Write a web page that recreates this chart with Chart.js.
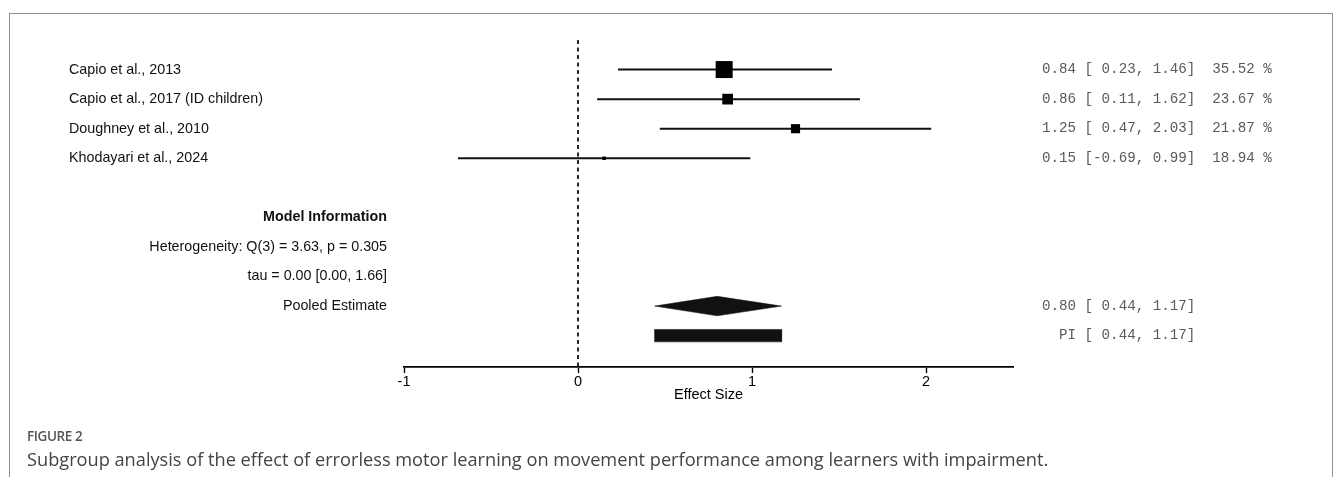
<!DOCTYPE html>
<html>
<head>
<meta charset="utf-8">
<script src="https://cdn.jsdelivr.net/npm/chart.js@4.4.1/dist/chart.umd.min.js"></script>
<style>
  html, body { margin: 0; padding: 0; background: #fff; }
  #wrap { position: relative; width: 1333px; height: 477px; overflow: hidden; }
  #frame { position: absolute; left: 9px; top: 13px; width: 1324px; height: 480px;
           border: 1.5px solid #909095; border-bottom: none; box-sizing: border-box; }
  #plot { position: absolute; left: 0; top: 0; }
  .fig { position: absolute; left: 27px; font-family: "Open Sans", sans-serif; white-space: nowrap; }
  #figno { top: 427px; font-size: 13.5px; font-weight: 600; color: #555; letter-spacing: -0.4px; }
  #caption { top: 447px; font-size: 18.2px; color: #444; }
</style>
</head>
<body>
<div id="wrap">
  <div id="frame"></div>
  <canvas id="plot" width="1333" height="477"></canvas>
  <div class="fig" id="figno">FIGURE 2</div>
  <div class="fig" id="caption">Subgroup analysis of the effect of errorless motor learning on movement performance among learners with impairment.</div>
</div>
<script>
// Study-level effect sizes with 95% confidence intervals and weights (%)
const studies   = ['Capio et al., 2013', 'Capio et al., 2017 (ID children)', 'Doughney et al., 2010', 'Khodayari et al., 2024'];
const estimates = [0.84, 0.86, 1.25, 0.15];
const lower     = [0.23, 0.11, 0.47, -0.69];
const upper     = [1.46, 1.62, 2.03, 0.99];
const weights   = [35.52, 23.67, 21.87, 18.94];

// Random-effects pooled estimate and prediction interval
const pooledEstimate = 0.80;
const pooledCI       = [0.44, 1.17];
const predInterval   = [0.44, 1.17];

// Model summary lines
const modelTitle = 'Model Information';
const modelLines = ['Heterogeneity: Q(3) = 3.63, p = 0.305', 'tau = 0.00 [0.00, 1.66]'];
const pooledLabel = 'Pooled Estimate';

// Axis
const xTicks = [-1, 0, 1, 2];
const xMin = -1, xMax = 2.5;
const axisTitle = 'Effect Size';

// Row layout (rows counted from the top)
const studyRows = studies.map((_, i) => i);
const ROW_MODEL = 5, ROW_HET = 6, ROW_TAU = 7, ROW_POOLED = 8, ROW_PI = 9;
const Y_TOP = -1, Y_BOTTOM = 10.06;

// Square side grows with study weight
const wMin = Math.min(...weights), wMax = Math.max(...weights);
const squareSide = w => 3.5 + 13.5 * Math.sqrt((w - wMin) / (wMax - wMin));

const fmt = v => v.toFixed(2);
const fmtLo = v => (v < 0 ? '' : ' ') + v.toFixed(2);

const INK = '#000';
const SANS = '"Liberation Sans", Arial, sans-serif';

const whiskerSets = studies.map((s, i) => ({
  type: 'line',
  data: [{ x: lower[i], y: studyRows[i] }, { x: upper[i], y: studyRows[i] }],
  borderColor: '#111', borderWidth: 2, pointRadius: 0, fill: false, order: 2
}));

const dh = 0.33;   // diamond half-height in row units
const bh = 0.21;   // prediction bar half-height in row units

const datasets = [
  {
    type: 'line',
    data: [{ x: 0, y: Y_TOP }, { x: 0, y: Y_BOTTOM }],
    borderColor: '#111', borderWidth: 1.8, borderDash: [4, 3.5], pointRadius: 0, fill: false, order: 3
  },
  ...whiskerSets,
  {
    type: 'scatter',
    data: estimates.map((e, i) => ({ x: e, y: studyRows[i] })),
    pointStyle: 'rect',
    pointRadius: ctx => squareSide(weights[ctx.dataIndex]) / Math.SQRT2,
    pointHoverRadius: ctx => squareSide(weights[ctx.dataIndex]) / Math.SQRT2,
    backgroundColor: INK, borderWidth: 0, order: 1
  },
  {
    type: 'line',
    data: [
      { x: pooledCI[0], y: ROW_POOLED },
      { x: pooledEstimate, y: ROW_POOLED - dh },
      { x: pooledCI[1], y: ROW_POOLED },
      { x: pooledEstimate, y: ROW_POOLED + dh },
      { x: pooledCI[0], y: ROW_POOLED }
    ],
    borderColor: '#111', borderWidth: 0.5, backgroundColor: '#111', fill: 'shape', pointRadius: 0, tension: 0, order: 1
  },
  {
    type: 'line',
    data: [
      { x: predInterval[0], y: ROW_PI - bh },
      { x: predInterval[1], y: ROW_PI - bh },
      { x: predInterval[1], y: ROW_PI + bh },
      { x: predInterval[0], y: ROW_PI + bh },
      { x: predInterval[0], y: ROW_PI - bh }
    ],
    borderColor: '#111', borderWidth: 0.5, backgroundColor: '#111', fill: 'shape', pointRadius: 0, tension: 0, order: 1
  }
];

// Study names, model summary and the numeric column
const textPlugin = {
  id: 'forestText',
  afterDraw(chart) {
    const ctx = chart.ctx;
    const y = chart.scales.y;
    ctx.save();
    ctx.textBaseline = 'middle';
    ctx.fillStyle = '#111';
    ctx.font = '14.3px ' + SANS;
    ctx.textAlign = 'left';
    studies.forEach((s, i) => ctx.fillText(s, 69, y.getPixelForValue(studyRows[i])));

    ctx.textAlign = 'right';
    ctx.font = 'bold 14.3px ' + SANS;
    ctx.fillText(modelTitle, 387, y.getPixelForValue(ROW_MODEL));
    ctx.font = '14.3px ' + SANS;
    ctx.fillText(modelLines[0], 387, y.getPixelForValue(ROW_HET));
    ctx.fillText(modelLines[1], 387, y.getPixelForValue(ROW_TAU));
    ctx.fillText(pooledLabel, 387, y.getPixelForValue(ROW_POOLED));

    ctx.textAlign = 'left';
    ctx.fillStyle = '#5a5a5a';
    ctx.font = '14.2px "Liberation Mono", "Courier New", monospace';
    const colX = 1042;
    studies.forEach((s, i) => {
      const line = `${fmt(estimates[i])} [${fmtLo(lower[i])}, ${fmt(upper[i])}]  ${fmt(weights[i])} %`;
      ctx.fillText(line, colX, y.getPixelForValue(studyRows[i]));
    });
    ctx.fillText(`${fmt(pooledEstimate)} [${fmtLo(pooledCI[0])}, ${fmt(pooledCI[1])}]`, colX, y.getPixelForValue(ROW_POOLED));
    ctx.fillText(`  PI [${fmtLo(predInterval[0])}, ${fmt(predInterval[1])}]`, colX, y.getPixelForValue(ROW_PI));
    ctx.restore();
  }
};

new Chart(document.getElementById('plot'), {
  type: 'scatter',
  data: { datasets },
  options: {
    responsive: false,
    animation: false,
    events: [],
    layout: { padding: { left: 404, right: 320, top: 40, bottom: 73 } },
    plugins: { legend: { display: false }, tooltip: { enabled: false } },
    scales: {
      x: {
        type: 'linear', min: xMin, max: xMax,
        afterBuildTicks: s => { s.ticks = xTicks.map(v => ({ value: v })); },
        afterFit: s => { s.height = 37; },
        border: { display: true, color: INK, width: 1.8 },
        grid: { drawOnChartArea: false, drawTicks: true, tickLength: 6, tickWidth: 1.4, tickColor: INK, color: INK },
        ticks: { color: INK, padding: 0, font: { family: SANS, size: 14.5 } },
        title: { display: true, text: axisTitle, color: INK, padding: { top: 0, bottom: 0 },
                 font: { family: SANS, size: 14.5 } }
      },
      y: { type: 'linear', min: Y_TOP, max: Y_BOTTOM, reverse: true, display: false }
    }
  },
  plugins: [textPlugin]
});
</script>
</body>
</html>
